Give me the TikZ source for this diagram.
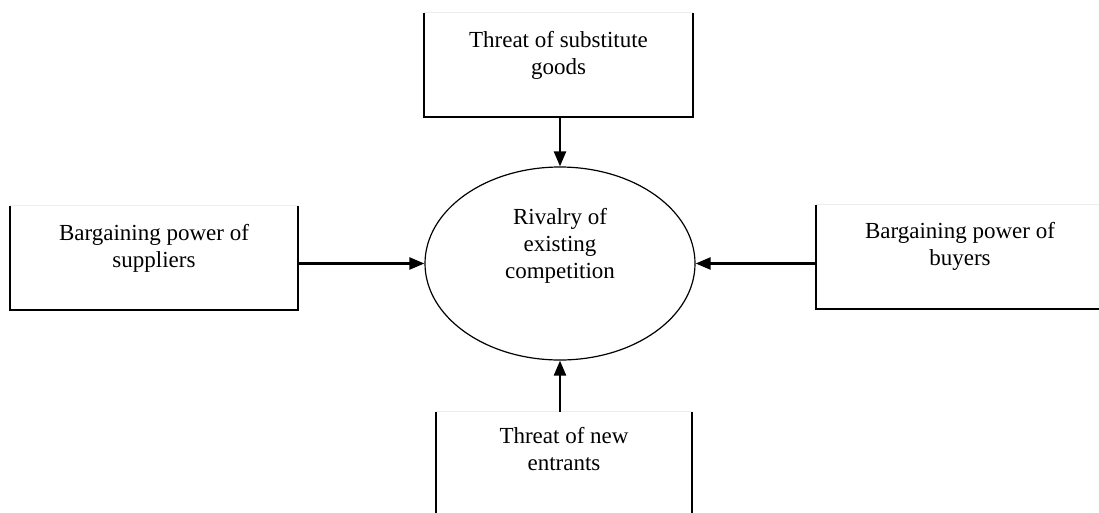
\documentclass[tikz,border=0pt]{standalone}
\usepackage{fontspec}
\setmainfont{Liberation Serif}
\usetikzlibrary{positioning,shapes.geometric,arrows.meta}
\begin{document}
\begin{tikzpicture}[x=1pt,y=-1pt,
  forceBox/.style={rectangle, inner sep=0pt, minimum height=104pt},
  forceText/.style={align=center, inner sep=0pt, font=\fontsize{23}{27}\selectfont},
  rivalNode/.style={ellipse, draw, line width=1.2pt, inner sep=0pt, minimum width=270pt, minimum height=193pt},
  sideLine/.style={line width=1.5pt},
  faintLine/.style={line width=0.8pt, black!7},
  forceArrow/.style={line width=2.4pt, -{Triangle[length=15pt,width=12pt]}}
]
\useasboundingbox (0,0) rectangle (1099,512);
\clip (0,0) rectangle (1099,512);
\node[rivalNode] (rivalry) at (560,263.5){};
\node[forceText] at ([yshift=18pt]rivalry.center) {Rivalry of\\existing\\competition};
\node[forceBox, minimum width=269pt] (substitutes) at (558.5,65){};
\node[forceText, below=18pt of substitutes.north] {Threat of substitute\\goods};
\node[forceBox, minimum width=288pt] (suppliers) at (154,258){};
\node[forceText, below=18pt of suppliers.north] {Bargaining power of\\suppliers};
\node[forceBox, minimum width=288pt] (buyers) at (960,257){};
\node[forceText, below=17pt of buyers.north] {Bargaining power of\\buyers};
\node[forceBox, minimum width=256pt] (entrants) at (564,464){};
\node[forceText, below=15pt of entrants.north] {Threat of new\\entrants};
% open boxes: no top edge
\foreach \force in {substitutes,suppliers,buyers,entrants}{
  \draw[faintLine] (\force.north west) -- (\force.north east);
  \draw[sideLine] (\force.north west) -- (\force.south west) -- (\force.south east) -- (\force.north east);
}
\draw[forceArrow] (substitutes.south -| rivalry.north) -- (rivalry.north);
\draw[forceArrow] (entrants.north -| rivalry.south) -- (rivalry.south);
\draw[forceArrow] (suppliers.east |- rivalry.west) -- (rivalry.west);
\draw[forceArrow] (buyers.west |- rivalry.east) -- (rivalry.east);
\end{tikzpicture}
\end{document}
